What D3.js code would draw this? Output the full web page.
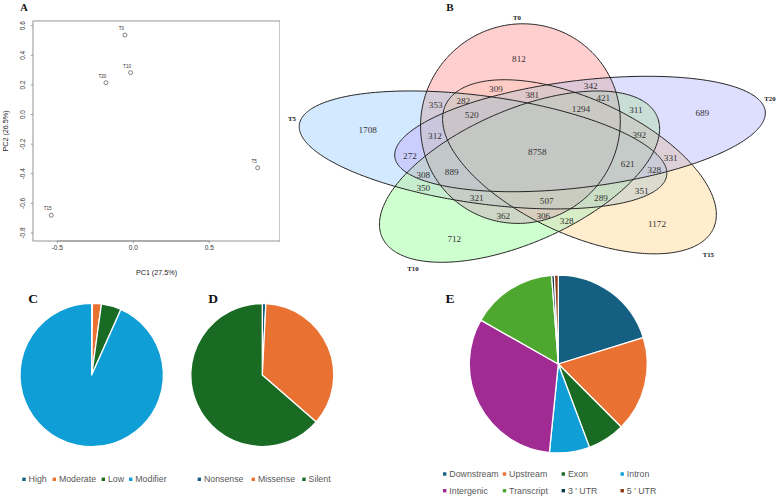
<!DOCTYPE html>
<html><head><meta charset="utf-8">
<script src="https://cdn.jsdelivr.net/npm/d3@7"></script>
<style>body{margin:0;background:#fff} svg{display:block}</style>
</head><body>
<svg id="fig" width="777" height="496"></svg>
<script>
// ---------- DATA ----------
// Panel A: PCA
const pcaSamples = ["T0", "T5", "T10", "T15", "T20"];
const pc1Values = [-0.055, 0.818, -0.018, -0.54, -0.18];
const pc2Values = [0.537, -0.36, 0.283, -0.68, 0.215];
const pc1Ticks = [-0.5, 0, 0.5];
const pc2Ticks = [-0.8, -0.6, -0.4, -0.2, 0, 0.2, 0.4, 0.6];

// Panel B: Venn (sets in drawing order) and region counts
const vennSets = ["T0", "T5", "T10", "T15", "T20"];
const vennColors = ["#ff0000", "#1e90ff", "#00ff00", "#ffa500", "#5a5aff"];
const vennCounts = [1708, 353, 282, 309, 520, 312, 272, 308, 889, 350, 321, 362, 712,
  812, 342, 381, 421, 1294, 311, 689, 392, 8758, 331, 621, 328, 351, 289, 507, 1172, 306, 328];

// Panel C: impact
const impactLabels = ["High", "Moderate", "Low", "Modifier"];
const impactValues = [0.17, 2.0, 4.5, 93.33];
// Panel D: functional class
const classLabels = ["Nonsense", "Missense", "Silent"];
const classValues = [0.8, 35.6, 63.6];
// Panel E: region
const regionLabels = ["Downstream", "Upstream", "Exon", "Intron", "Intergenic", "Transcript", "3 ' UTR", "5 ' UTR"];
const regionValues = [20.2, 17.3, 6.8, 7.3, 31.6, 15.6, 0.5, 0.7];

const pieColors = ["#156082", "#E97132", "#196B24", "#0F9ED5", "#A02B93", "#4EA72E", "#0D3A4F", "#8C3A12"];

// ---------- LAYOUT ----------
const svg = d3.select("#fig");
const sans = "'Liberation Sans', Arial, sans-serif";
const serif = "'Liberation Serif', 'Times New Roman', serif";

// soft tone filter for the Venn fills (lightens the deep overlaps)
const defs = svg.append("defs");
const flt = defs.append("filter").attr("id", "soft").attr("filterUnits", "userSpaceOnUse")
  .attr("x", 0).attr("y", 0).attr("width", 777).attr("height", 496)
  .attr("color-interpolation-filters", "sRGB");
const fct = flt.append("feComponentTransfer");
const tv = "0.5 0.55 0.6 0.65 0.7 0.74 0.765 0.785 0.808 0.9 1";
["feFuncR", "feFuncG", "feFuncB"].forEach(f => fct.append(f).attr("type", "table").attr("tableValues", tv));

function panelLetter(t, x, y, size) {
  svg.append("text").attr("x", x).attr("y", y).attr("text-anchor", "middle")
    .attr("font-family", serif).attr("font-weight", "bold").attr("font-size", size)
    .attr("fill", "#111").text(t);
}

// ===== Panel A =====
(function () {
  const x = d3.scaleLinear().domain([-0.5, 0.5]).range([57.3, 209.3]);
  const y = d3.scaleLinear().domain([-0.8, 0.6]).range([233, 25.7]);
  const xUsr = [-0.66, 0.965], yUsr = [-0.854, 0.632];
  const g = svg.append("g");
  g.append("rect").attr("x", x(xUsr[0])).attr("y", y(yUsr[1]))
    .attr("width", x(xUsr[1]) - x(xUsr[0])).attr("height", y(yUsr[0]) - y(yUsr[1]))
    .attr("fill", "none").attr("stroke", "#8a8a8a").attr("stroke-width", 0.9);
  const bottom = y(yUsr[0]), left = x(xUsr[0]);
  g.append("line").attr("x1", x(pc1Ticks[0])).attr("x2", x(pc1Ticks[pc1Ticks.length - 1]))
    .attr("y1", bottom).attr("y2", bottom).attr("stroke", "#8a8a8a").attr("stroke-width", 0.9);
  pc1Ticks.forEach(t => {
    g.append("line").attr("x1", x(t)).attr("x2", x(t)).attr("y1", bottom).attr("y2", bottom + 2.2)
      .attr("stroke", "#8a8a8a").attr("stroke-width", 0.8);
    g.append("text").attr("x", x(t)).attr("y", bottom + 8.6).attr("text-anchor", "middle")
      .attr("font-family", sans).attr("font-size", 6.5).attr("fill", "#333").text(t.toFixed(1));
  });
  pc2Ticks.forEach(t => {
    g.append("line").attr("x1", left - 2.2).attr("x2", left).attr("y1", y(t)).attr("y2", y(t))
      .attr("stroke", "#8a8a8a").attr("stroke-width", 0.8);
    g.append("text").attr("transform", `translate(${left - 7.8},${y(t)}) rotate(-90)`)
      .attr("text-anchor", "middle").attr("font-family", sans).attr("font-size", 6.5)
      .attr("fill", "#333").text(t.toFixed(1));
  });
  g.append("text").attr("x", (x(xUsr[0]) + x(xUsr[1])) / 2).attr("y", 274.8).attr("text-anchor", "middle")
    .attr("font-family", sans).attr("font-size", 7.2).attr("fill", "#222").text("PC1 (27.5%)");
  g.append("text").attr("transform", `translate(7.8,${(y(yUsr[0]) + y(yUsr[1])) / 2}) rotate(-90)`)
    .attr("text-anchor", "middle").attr("font-family", sans).attr("font-size", 7.2)
    .attr("fill", "#222").text("PC2 (26.5%)");
  pcaSamples.forEach((s, i) => {
    g.append("circle").attr("cx", x(pc1Values[i])).attr("cy", y(pc2Values[i])).attr("r", 2)
      .attr("fill", "none").attr("stroke", "#333").attr("stroke-width", 0.6);
    g.append("text").attr("x", x(pc1Values[i]) - 3.5).attr("y", y(pc2Values[i]) - 4.8)
      .attr("text-anchor", "middle").attr("font-family", sans).attr("font-size", 4.6)
      .attr("fill", "#333").text(s);
  });
  panelLetter("A", 24, 10.5, 10.5);
})();

// ===== Panel B: Venn =====
(function () {
  const vx = d3.scaleLinear().domain([0, 1]).range([328.5, 744.5]);
  const vy = d3.scaleLinear().domain([0, 1]).range([41.7, 258.7]);
  const dist = 0.1285, A = 0.46, B = 0.24;
  const slot = { T5: 0, T0: 1, T20: 2, T15: 3, T10: 4 };
  const rad = d => d * Math.PI / 180;
  function ellipse(name) {
    const phi = rad(180.5 + 72 * slot[name]);
    const psi = phi + rad(18.5);
    const cx = 0.5 + dist * Math.cos(phi), cy = 0.5 + dist * Math.sin(phi);
    return d3.range(0, 2 * Math.PI, Math.PI / 180).map(t => [
      vx(cx + A * Math.cos(t) * Math.cos(psi) - B * Math.sin(t) * Math.sin(psi)),
      vy(cy + A * Math.cos(t) * Math.sin(psi) + B * Math.sin(t) * Math.cos(psi))]);
  }
  const line = d3.line().curve(d3.curveLinearClosed);
  const g = svg.append("g");
  const fills = g.append("g").attr("filter", "url(#soft)");
  fills.append("rect").attr("x", 280).attr("y", 15).attr("width", 497).attr("height", 260).attr("fill", "#fff");
  vennSets.forEach((s, i) => {
    fills.append("path").attr("d", line(ellipse(s))).attr("fill", vennColors[i]).attr("fill-opacity", 0.2)
      .attr("stroke", "none");
  });
  vennSets.forEach(s => {
    g.append("path").attr("d", line(ellipse(s))).attr("fill", "none").attr("stroke", "#222")
      .attr("stroke-width", 1);
  });
  const countPos = [[.0942, .4069], [.2577, .2917], [.324, .2719], [.4026, .2147], [.3442, .3378],
    [.256, .4346], [.1959, .5267], [.2279, .6111], [.2962, .5991], [.2279, .6728], [.3562, .7171],
    [.4202, .8032], [.3024, .906], [.4579, .0765], [.6303, .2041], [.4899, .2456], [.6606, .2562],
    [.607, .3101], [.7392, .3115], [.8986, .3272], [.7471, .4267], [.5019, .5083], [.8226, .5346],
    [.7192, .5636], [.7832, .588], [.7529, .688], [.655, .7171], [.5245, .7341], [.7897, .8369],
    [.5163, .8018], [.5726, .8249]];
  vennCounts.forEach((c, i) => {
    g.append("text").attr("x", vx(countPos[i][0])).attr("y", vy(countPos[i][1]))
      .attr("dy", "0.35em").attr("text-anchor", "middle").attr("font-family", serif)
      .attr("font-size", 9.2).attr("fill", "#333").text(c);
  });
  const setPos = { T0: [.4531, -.1092], T5: [-.0877, .3562], T20: [1.0613, .2608], T10: [.2031, 1.0475], T15: [.913, .9797] };
  vennSets.forEach(s => {
    g.append("text").attr("x", vx(setPos[s][0])).attr("y", vy(setPos[s][1])).attr("dy", "0.35em")
      .attr("text-anchor", "middle").attr("font-family", serif).attr("font-weight", "bold")
      .attr("font-size", 6.8).attr("fill", "#222").text(s);
  });
  panelLetter("B", 450, 10.5, 11);
})();

// ===== Pies =====
function pie(cx, cy, r, labels, values, legendRows) {
  const g = svg.append("g").attr("transform", `translate(${cx},${cy})`);
  const arcs = d3.pie().sort(null).value(d => d)(values);
  const arc = d3.arc().innerRadius(0).outerRadius(r);
  g.selectAll("path").data(arcs).join("path").attr("d", arc)
    .attr("fill", (d, i) => pieColors[i]).attr("stroke", "#fff").attr("stroke-width", 1.3)
    .attr("stroke-linejoin", "round");
  legendRows.forEach(row => {
    row.items.forEach(([idx, mx]) => {
      svg.append("rect").attr("x", mx - 1.7).attr("y", row.y - 1.7).attr("width", 3.4).attr("height", 3.4)
        .attr("fill", pieColors[idx]);
      svg.append("text").attr("x", mx + 4.6).attr("y", row.y + 3.1).attr("font-family", sans)
        .attr("font-size", 8.8).attr("fill", "#595959").text(labels[idx]);
    });
  });
}
pie(91.7, 375, 71.7, impactLabels, impactValues,
  [{ y: 479.3, items: [[0, 24], [1, 54.3], [2, 103.3], [3, 130.7]] }]);
pie(262.3, 375, 71.5, classLabels, classValues,
  [{ y: 479.3, items: [[0, 199.3], [1, 253.3], [2, 304]] }]);
pie(558.3, 364, 89, regionLabels, regionValues,
  [{ y: 474, items: [[0, 444.7], [1, 504.5], [2, 563.3], [3, 622.2]] },
   { y: 490.7, items: [[4, 444.7], [5, 504.5], [6, 563.3], [7, 622.2]] }]);
panelLetter("C", 33, 303, 13.5);
panelLetter("D", 213, 303, 13.5);
panelLetter("E", 450, 303, 13.5);
</script>
</body></html>
